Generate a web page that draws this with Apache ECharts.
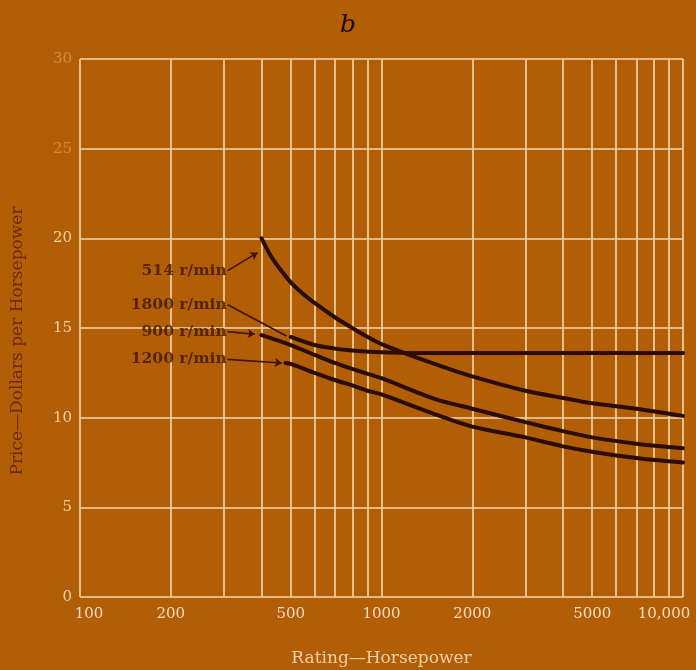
<!DOCTYPE html>
<html>
<head>
<meta charset="utf-8">
<script src="https://cdn.jsdelivr.net/npm/echarts@6/dist/echarts.min.js"></script>
<style>
html,body{margin:0;padding:0;background:#b25e06;}
#c{width:696px;height:670px;}
</style>
</head>
<body>
<div id="c"></div>
<script>
// Data
const gridX = [100,200,300,400,500,600,700,800,900,1000,2000,3000,4000,5000,6000,7000,8000,9000,10000];
const labelX = [100,200,500,1000,2000,5000,10000];

const hp514 = [400,430,460,500,550,600,700,800,900,1000,1150,1500,2000,3000,4000,5000,7000,10000];
const price514 = [20.0,19.0,18.3,17.55,16.9,16.4,15.6,15.0,14.5,14.1,13.7,13.0,12.3,11.5,11.1,10.8,10.5,10.1];

const hp1800 = [500,600,700,800,1000,1500,2000,5000,10000];
const price1800 = [14.5,14.05,13.85,13.75,13.65,13.6,13.6,13.6,13.6];

const hp900 = [400,500,600,700,800,900,1000,1500,2000,3000,4000,5000,7000,10000];
const price900 = [14.6,14.05,13.5,13.05,12.72,12.44,12.2,11.05,10.5,9.75,9.25,8.9,8.55,8.3];

const hp1200 = [480,500,600,700,800,900,1000,1500,2000,3000,4000,5000,7000,10000];
const price1200 = [13.05,13.0,12.5,12.1,11.8,11.5,11.3,10.2,9.5,8.9,8.4,8.1,7.75,7.5];

const curveNames = ['514 r/min','1800 r/min','900 r/min','1200 r/min'];

const zip = (a,b) => a.map((v,i)=>[v,b[i]]);

const curveColor = '#2a0d08';
const gridColor = '#f2d8ac';
const labelColor = '#3e1408';

// annotation leader lines (data units): from label anchor to curve
const leaders = [
  {name: curveNames[0], from:[309,18.2], to:[388,19.2], arrow:true},
  {name: curveNames[1], from:[309,16.3], to:[484,14.55], arrow:false},
  {name: curveNames[2], from:[309,14.8], to:[380,14.65], arrow:true},
  {name: curveNames[3], from:[309,13.25], to:[467,13.05], arrow:true}
];

const chart = echarts.init(document.getElementById('c'), null, {renderer:'canvas'});

function curve(name, xs, ys){
  return {
    name, type:'line', data: zip(xs,ys), showSymbol:false, smooth:0.3,
    lineStyle:{color:curveColor, width:4, cap:'round'}, z:5, silent:true
  };
}

const series = [
  curve(curveNames[0], hp514, price514),
  curve(curveNames[1], hp1800, price1800),
  curve(curveNames[2], hp900, price900),
  curve(curveNames[3], hp1200, price1200),
  {
    type:'line', data:[], silent:true,
    markLine:{
      silent:true, animation:false,
      lineStyle:{color:labelColor, width:1.6, type:'solid'},
      label:{show:false},
      data: leaders.map(l => [
        {coord:l.from, symbol:'none'},
        {coord:l.to, symbol: l.arrow ? 'arrow' : 'none', symbolSize:7}
      ])
    }
  },
  {
    type:'scatter', symbolSize:0, silent:true, z:6,
    data: leaders.map(l => ({value:l.from, name:l.name})),
    label:{show:true, position:'left', distance:1, formatter: p => p.name,
      fontFamily:'DejaVu Serif', fontWeight:'bold', fontSize:15.5, color:labelColor}
  }
];

const xLabelFont = {fontFamily:'DejaVu Serif', fontSize:15, color:'#f3dcc0'};

chart.setOption({
  backgroundColor:'#b25e06',
  animation:false,
  title:{text:'b', left:'center', top:8,
    textStyle:{fontFamily:'DejaVu Serif', fontStyle:'italic', fontWeight:'normal', fontSize:25, color:'#1a0804'}},
  grid:{left:80, right:13, top:59, bottom:73, containLabel:false, outerBoundsMode:'none'},
  xAxis:{
    type:'log', logBase:10, min:100, max:10000,
    axisLine:{show:false},
    axisTick:{show:false, customValues:gridX},
    axisLabel:{customValues:labelX, margin:10,
      formatter: v => {
        const r = Math.round(v);
        if (r === 100) return '{first|100}';
        if (r === 10000) return '{last|10,000}';
        return String(r);
      },
      rich:{
        first:Object.assign({padding:[0,0,0,18]}, xLabelFont),
        last:Object.assign({padding:[0,38,0,0]}, xLabelFont)
      },
      ...xLabelFont},
    splitLine:{show:true, lineStyle:{color:gridColor, width:1.6}},
    name:'Rating—Horsepower', nameLocation:'middle', nameGap:53,
    nameTextStyle:{fontFamily:'DejaVu Serif', fontSize:17, color:'#ecd0ac'}
  },
  yAxis:{
    type:'value', min:0, max:30, interval:5,
    axisLine:{show:false}, axisTick:{show:false},
    axisLabel:{margin:8, fontFamily:'DejaVu Serif', fontSize:15,
      color: v => (v >= 25 ? '#cf8a44' : '#f0d2a8')},
    splitLine:{show:true, lineStyle:{color:gridColor, width:1.6}},
    name:'Price—Dollars per Horsepower', nameLocation:'middle', nameGap:54,
    nameTextStyle:{fontFamily:'DejaVu Serif', fontSize:17, color:'#6e2a10', padding:[0,26,0,0]}
  },
  series
});
</script>
</body>
</html>
